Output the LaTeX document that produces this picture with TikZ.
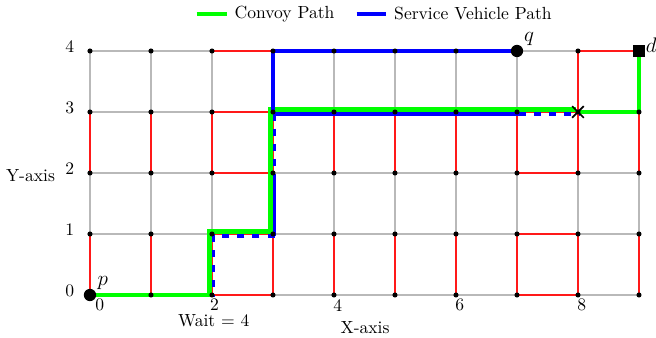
\documentclass[tikz,border=0pt]{standalone}
\usetikzlibrary{shapes.misc}
\usepackage{amsmath}
\usepackage{xcolor}

\tikzset{
  gridedge/.style={gray!55, line width=0.75pt},
  rededge/.style={red!90, line width=0.75pt},
  convoy/.style={green, line width=2.4pt},
  service/.style={blue, line width=2.2pt},
  servicewait/.style={service, dash pattern=on 4pt off 4.6pt},
  gridpt/.style={circle, fill=black, inner sep=0pt, minimum size=2.9pt},
  endpt/.style={circle, fill=black, inner sep=0pt, minimum size=7pt},
  goalpt/.style={rectangle, fill=black, inner sep=0pt, minimum size=6.6pt},
  meetpt/.style={cross out, draw=black, line width=1pt, inner sep=0pt, minimum size=5.6pt},
}

\begin{document}
\begin{tikzpicture}[x=1.22cm,y=1.22cm]
    \useasboundingbox (-1.475,-0.689) rectangle (9.279,4.836);
    \foreach \i in {0,...,9}
        \foreach \j in {0,...,4}
            \coordinate (n-\i-\j) at (\i,\j);

    \foreach \i [count=\k from 1] in {0,...,8}
        \foreach \j in {0,...,4}
            \draw[gridedge] (n-\i-\j) -- (n-\k-\j);
    \foreach \j [count=\k from 1] in {0,...,3}
        \foreach \i in {0,...,9}
            \draw[gridedge] (n-\i-\j) -- (n-\i-\k);

    \foreach \i in {0,...,9} {
        \draw[rededge] (n-\i-0) -- (n-\i-1);
        \draw[rededge] (n-\i-2) -- (n-\i-3);
    }
    \foreach \j in {0,...,4}
        \draw[rededge] (n-2-\j) -- (n-3-\j);
    \foreach \j in {0,...,3}
        \draw[rededge] (n-7-\j) -- (n-8-\j);
    \draw[rededge] (n-8-4) -- (n-9-4);
    \draw[rededge] (n-8-3) -- (n-8-4);

    \draw[convoy] (n-0-0) -- (n-2-0);
    \draw[convoy, transform canvas={xshift=-1.4pt, yshift=1.4pt}] (n-2-0) -- (n-2-1) -- (n-3-1) -- (n-3-3) -- (n-8-3);
    \draw[convoy] (n-8-3) -- (n-9-3) -- (n-9-4);

    \draw[service] (n-7-4) -- (n-3-4) -- (n-3-3);
    \draw[service, transform canvas={xshift=0.9pt, yshift=-1pt}] (n-3-3) -- (n-7-3);
    \draw[servicewait, transform canvas={xshift=0.9pt, yshift=-1pt}] (n-7-3) -- (n-8-3);
    \draw[servicewait, transform canvas={xshift=0.9pt, yshift=-0.9pt}] (n-3-3) -- (n-3-2);
    \draw[service, transform canvas={xshift=0.9pt, yshift=-0.9pt}] (n-3-2) -- (n-3-1);
    \draw[servicewait, transform canvas={xshift=0.9pt, yshift=-0.9pt}] (n-3-1) -- (n-2-1) -- (n-2-0);

    \foreach \i in {0,...,9}
        \foreach \j in {0,...,4}
            \node[gridpt] (dot-\i-\j) at (n-\i-\j) {};

    \node[endpt] (p) at (n-0-0) {};
    \node[endpt] (q) at (n-7-4) {};
    \node[goalpt] (d) at (n-9-4) {};
    \node[meetpt] (meet) at (n-8-3) {};
    \node at (0.21,0.2) {\large $p$};
    \node at (7.2,4.19) {\large $q$};
    \node at (9.2,4.09) {\large $d$};

    \foreach \x/\xpos in {0/0.16, 2/2.04, 4/4.06, 6/6.06, 8/8.06}
        \node (xt-\x) at (\xpos,-0.165) {\x};
    \foreach \y in {0,...,4}
        \node (yt-\y) at (-0.33,\y+0.07) {\y};
    \node (xlabel) at (4.51,-0.54) {X-axis};
    \node (ylabel) at (-0.975,1.96) {Y-axis};
    \node (wait) at (2.03,-0.415) {Wait = 4};

    \draw[convoy] (1.75,4.61) -- (2.24,4.61) node[right, black] (leg-convoy) {Convoy Path};
    \draw[service] (4.37,4.61) -- (4.86,4.61) node[right, black] (leg-service) {Service Vehicle Path};
\end{tikzpicture}
\end{document}
